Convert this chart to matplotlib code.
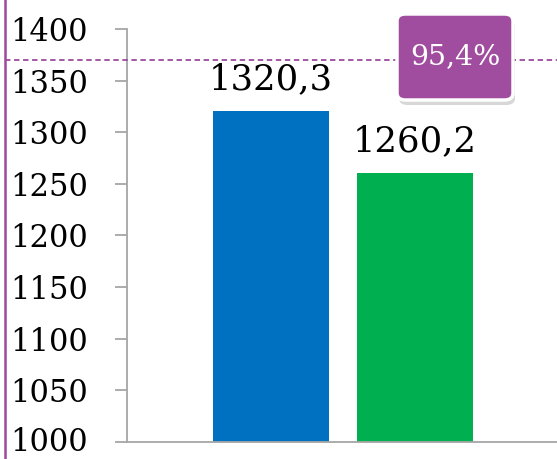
import matplotlib
matplotlib.use("Agg")
import matplotlib.pyplot as plt
from matplotlib.patches import FancyBboxPatch
from matplotlib.lines import Line2D
import matplotlib.transforms as mtransforms

categories = ["A", "B"]
values = [1320.3, 1260.2]
value_labels = ["1320,3", "1260,2"]
colors = ["#0070C0", "#00B050"]
ratio_label = "95,4%"
ref_level = 1370
yticks = [1000, 1050, 1100, 1150, 1200, 1250, 1300, 1350, 1400]

plt.rcParams['font.family'] = ['DejaVu Serif']
fig = plt.figure(figsize=(5.57, 4.59), dpi=100)
ax = fig.add_axes([127/557, 17/459, 430/557, 413/459])

x = list(range(len(categories)))
bars = ax.bar(x, values, width=0.806, color=colors, zorder=2)
ax.set_xlim(-1.0, 1.986)
ax.set_ylim(1000, 1400)
ax.set_yticks(yticks)
ax.set_yticklabels([str(t) for t in yticks], fontsize=22)
ax.set_xticks([])
for s in ["top", "right"]:
    ax.spines[s].set_visible(False)
for s in ["left", "bottom"]:
    ax.spines[s].set_color("#A6A6A6")
    ax.spines[s].set_linewidth(1.3)
ax.tick_params(axis="y", direction="out", length=9, width=1.3, color="#A6A6A6", pad=19)
# keep the lowest label inside the canvas
ax.get_yticklabels()[0].set_verticalalignment("baseline")
ax.get_yticklabels()[0].set_y(1000)
lbl0 = ax.get_yticklabels()[0]
lbl0.set_transform(lbl0.get_transform() + mtransforms.ScaledTranslation(0, -9/100, fig.dpi_scale_trans))

for xi, v, lab in zip(x, values, value_labels):
    ax.text(xi, v + 21, lab, ha="center", va="baseline", fontsize=25.5, color="black")

# left purple line
fig.add_artist(Line2D([5/557, 5/557], [0, 1], transform=fig.transFigure, color="#9B4B9E", lw=1.8))
# dashed reference line
tr = mtransforms.blended_transform_factory(fig.transFigure, ax.transData)
fig.add_artist(Line2D([5/557, 1], [ref_level, ref_level], transform=tr, color="#9B4B9E", lw=1.3, ls=(0, (3, 2)), clip_on=False))

# badge
bx0, by0, bw, bh = 397/557, (459-100)/459, 116/557, 86/459
shadow = FancyBboxPatch((bx0 + 2/557, by0 - 5/459), bw, bh, boxstyle="round,pad=0,rounding_size=0.015",
                        transform=fig.transFigure, facecolor="#00000028", edgecolor="none", zorder=5)
fig.add_artist(shadow)
badge = FancyBboxPatch((bx0, by0), bw, bh, boxstyle="round,pad=0,rounding_size=0.015",
                       transform=fig.transFigure, facecolor="#A04C9F", edgecolor="white", lw=2.5, zorder=6)
fig.add_artist(badge)
fig.text(bx0 + bw/2, by0 + bh/2, ratio_label, ha="center", va="center", color="white", fontsize=20.5, zorder=7)

fig.savefig("out.png", dpi=100)
